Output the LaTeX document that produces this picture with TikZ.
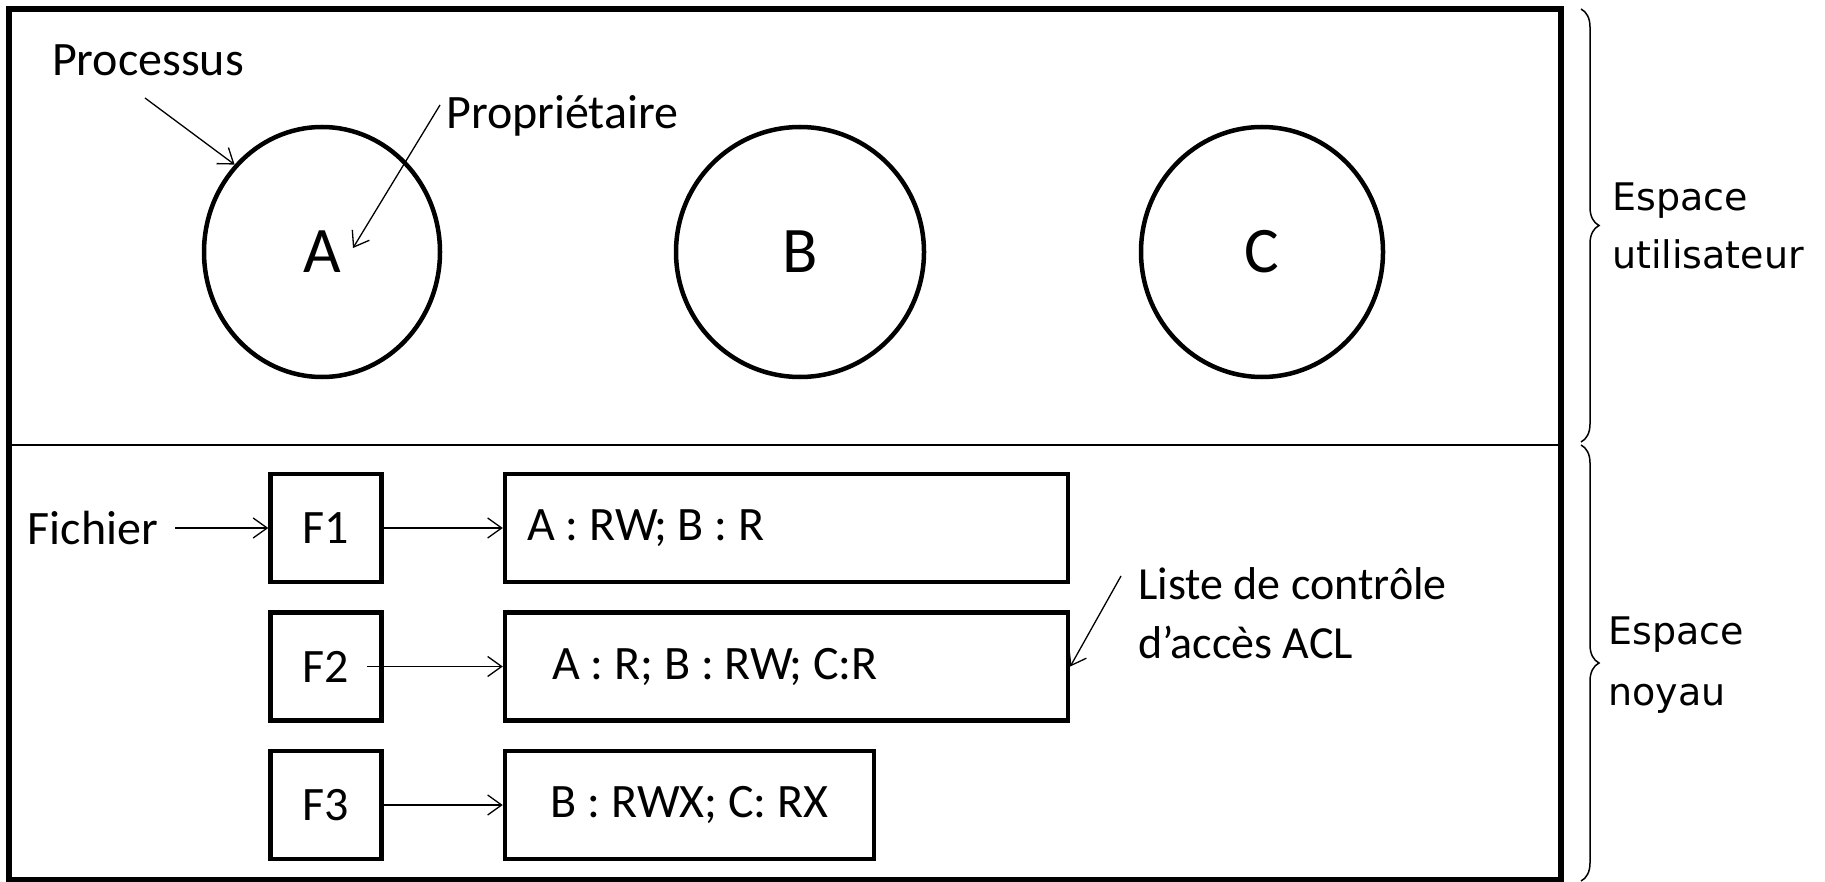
\documentclass[tikz,border=0pt]{standalone}
\usepackage{fontspec}
\setmainfont{Carlito}
\newfontfamily\bracefont{DejaVu Sans}
\usetikzlibrary{positioning,arrows.meta,shapes.geometric,decorations.pathreplacing}
\frenchspacing

\begin{document}
\begin{tikzpicture}[
    x=1pt, y=-1pt,
    node distance=26pt,
    proc/.style={%
      draw,
      ellipse,
      line width=4.5pt,
      minimum width=248pt,
      minimum height=250pt,
      inner sep=0pt,
      font=\fontsize{65}{72}\selectfont,
    },
    file/.style={%
      draw,
      rectangle,
      line width=4.5pt,
      minimum width=111pt,
      minimum height=108pt,
      font=\fontsize{48}{54}\selectfont,
    },
    acl/.style={%
      draw,
      rectangle,
      line width=4.5pt,
      minimum height=108pt,
      align=flush left,
      font=\fontsize{48}{54}\selectfont,
    },
    note/.style={%
      inner sep=0pt,
      align=left,
      font=\fontsize{48}{59}\selectfont,
    },
    zone/.style={%
      inner sep=0pt,
      align=left,
      font=\bracefont\fontsize{38}{58}\selectfont,
    },
    pointer/.style={->, line width=1.3pt, >={Straight Barb[length=14pt,width=20pt]}},
    brace/.style={decorate, decoration={brace, amplitude=18pt}, line width=1.5pt},
  ]

    \useasboundingbox (0,0) rectangle (1825,882);

    % frame, user space above, kernel space below
    \draw [line width=6pt] (9,9) rectangle (1561,880);
    \draw [line width=1.5pt] (9,445) -- (1561,445);

    \node [proc, minimum width=236pt] (A) at (322,252) {A};
    \node [proc] (B) at (800,252) {B};
    \node [proc, minimum width=242pt] (C) at (1262,252) {C};

    \node [note] (procLbl) at (148,60) {Processus};
    \node [note, anchor=west] (ownLbl) at (446,116) {Propriétaire};
    \coordinate (procStart) at (145,98);
    \coordinate (ownStart) at (440,105);
    \coordinate (ownTip) at (353,248);

    \draw [pointer] (procStart) -- (A.135);
    \draw [pointer] (ownStart) -- (ownTip);

    % files and their access lists
    \node [file] (F1) at (326,528) {F1};
    \node [file, below=of F1] (F2) {F2};
    \node [file, below=of F2] (F3) {F3};

    \node [acl, right=119pt of F1, text width=519pt, inner xsep=22pt] (acl1) {A : RW; B : R};
    \node [acl, right=119pt of F2, text width=469pt, inner xsep=47pt] (acl2) {A : R; B : RW; C:R};
    \node [acl, right=119pt of F3, minimum width=369pt] (acl3) {B : RWX; C: RX};

    \node [note, left=110pt of F1] (fileLbl) {Fichier};
    \node [note, anchor=west, font=\fontsize{46}{59}\selectfont] (aclLbl) at (1138,613) {Liste de contrôle\\d’accès ACL};
    \coordinate (aclStart) at (1121,576);

    \draw [pointer] ([xshift=17pt]fileLbl.east) -- (F1.west);
    \draw [pointer] (F1.east) -- (acl1.west);
    \draw [pointer] ([xshift=-17pt]F2.east) -- (acl2.west);
    \draw [pointer] (F3.east) -- (acl3.west);
    \draw [pointer] (aclStart) -- (acl2.east);

    % braces on the right
    \draw [brace] (1581,9) -- (1581,442);
    \draw [brace] (1581,445) -- (1581,881);
    \node [zone, anchor=west] (userLbl) at (1612,226) {Espace\\utilisateur};
    \node [zone, anchor=west, font=\bracefont\fontsize{38}{61}\selectfont] (kernLbl) at (1608,665) {Espace\\noyau};

\end{tikzpicture}
\end{document}
